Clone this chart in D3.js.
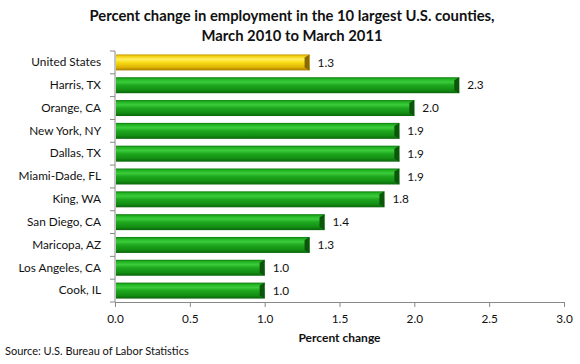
<!DOCTYPE html>
<html>
<head>
<meta charset="utf-8">
<script src="https://cdn.jsdelivr.net/npm/d3@7"></script>
<style>
body { margin: 0; background: #fff; }
text { font-family: Lato, "Open Sans", sans-serif; fill: #111; }
.axis path, .axis line { stroke: #888; }
.axis text { font-size: 11.8px; }
</style>
</head>
<body>
<div id="chart"></div>
<script>

// DATA

const counties = ["United States", "Harris, TX", "Orange, CA", "New York, NY", "Dallas, TX",
    "Miami-Dade,  FL", "King, WA", "San Diego, CA", "Maricopa, AZ", "Los Angeles, CA", "Cook, IL"];
const changes = [1.3, 2.3, 2.0, 1.9, 1.9, 1.9, 1.8, 1.4, 1.3, 1.0, 1.0];
const xTicks = [0, 0.5, 1.0, 1.5, 2.0, 2.5, 3.0];

const data = counties.map(function(c, i) { return {name: c, value: changes[i]}; });

// MAKE SVG CANVAS

const width = 580;
const height = 364;
const margin = {top: 51, left: 115, right: 16, bottom: 62};
const svg = d3.select("#chart")
    .append("svg")
    .attr("width", width)
    .attr("height", height);

// GRADIENTS

const defs = svg.append("defs");
function grad(id, stops) {
    const g = defs.append("linearGradient")
        .attr("id", id)
        .attr("x1", 0).attr("y1", 0).attr("x2", 0).attr("y2", 1);
    stops.forEach(function(s) {
        g.append("stop").attr("offset", s[0]).attr("stop-color", s[1]);
    });
}
grad("green", [[0, "#0e7a0e"], [0.12, "#22b422"], [0.3, "#3ccc3c"], [0.5, "#1ea81e"], [0.8, "#138e13"], [1, "#0a640a"]]);
grad("gold", [[0, "#c89a00"], [0.12, "#f4d010"], [0.3, "#fff060"], [0.5, "#f8dc18"], [0.8, "#dfb400"], [1, "#a67c00"]]);

// SCALES

const xScale = d3.scaleLinear()
    .domain([0, 3])
    .range([margin.left, width - margin.right]);

const yScale = d3.scaleBand()
    .domain(counties)
    .range([margin.top, height - margin.bottom])
    .paddingInner(0.3)
    .paddingOuter(0.15);

// AXIS

const xAxis = svg.append("g")
    .attr("class", "axis")
    .attr("transform", `translate(0, ${height - margin.bottom})`)
    .call(d3.axisBottom(xScale).tickValues(xTicks).tickFormat(d3.format(".1f")).tickSizeOuter(0).tickSize(5));
xAxis.selectAll("text").attr("dy", "1.1em");

const yAxis = svg.append("g")
    .attr("class", "axis")
    .attr("transform", `translate(${margin.left}, 0)`)
    .call(d3.axisLeft(yScale).tickSize(0).tickPadding(14));
yAxis.select(".domain").attr("d", `M0,${margin.top}V${height - margin.bottom}`);

// y ticks at band boundaries
const bounds = d3.range(counties.length + 1).map(function(i) {
    return margin.top + i * (height - margin.top - margin.bottom) / counties.length;
});
yAxis.selectAll(".bound")
    .data(bounds)
    .enter()
    .append("line")
    .attr("class", "bound")
    .attr("x1", -5).attr("x2", 0)
    .attr("y1", function(d) { return d; })
    .attr("y2", function(d) { return d; });

// TITLES

svg.append("text")
    .attr("x", 292).attr("y", 21)
    .attr("text-anchor", "middle")
    .style("font-size", "14.8px").style("font-weight", "bold")
    .text("Percent change in employment in the 10 largest U.S. counties,");
svg.append("text")
    .attr("x", 292).attr("y", 41)
    .attr("text-anchor", "middle")
    .style("font-size", "14.8px").style("font-weight", "bold")
    .text("March 2010 to March 2011");

svg.append("text")
    .attr("x", xScale(1.5)).attr("y", 342)
    .attr("text-anchor", "middle")
    .style("font-size", "12px").style("font-weight", "bold")
    .text("Percent change");

svg.append("text")
    .attr("x", 5).attr("y", 355)
    .style("font-size", "11px")
    .text("Source: U.S. Bureau of Labor Statistics");

// BARS

svg.selectAll(".bar")
    .data(data)
    .enter()
    .append("rect")
    .attr("class", "bar")
    .attr("x", xScale(0) + 1)
    .attr("y", function(d) { return yScale(d.name); })
    .attr("width", function(d) { return xScale(d.value) - xScale(0) - 1; })
    .attr("height", yScale.bandwidth())
    .attr("fill", function(d, i) { return i === 0 ? "url(#gold)" : "url(#green)"; });

// bevel end cap
const bh = yScale.bandwidth();
svg.selectAll(".cap")
    .data(data)
    .enter()
    .append("path")
    .attr("class", "cap")
    .attr("d", function(d) {
        const x = xScale(d.value), y = yScale(d.name);
        return `M${x - 5},${y + 3}L${x},${y}L${x},${y + bh}L${x - 5},${y + bh - 3}Z`;
    })
    .attr("fill", function(d, i) { return i === 0 ? "#8a6a00" : "#0b560b"; });

// VALUE LABELS

svg.selectAll(".val")
    .data(data)
    .enter()
    .append("text")
    .attr("class", "val")
    .attr("x", function(d) { return xScale(d.value) + 8; })
    .attr("y", function(d) { return yScale(d.name) + bh / 2; })
    .attr("dy", "0.35em")
    .style("font-size", "11.8px")
    .text(function(d) { return d.value.toFixed(1); });

</script>
</body>
</html>
